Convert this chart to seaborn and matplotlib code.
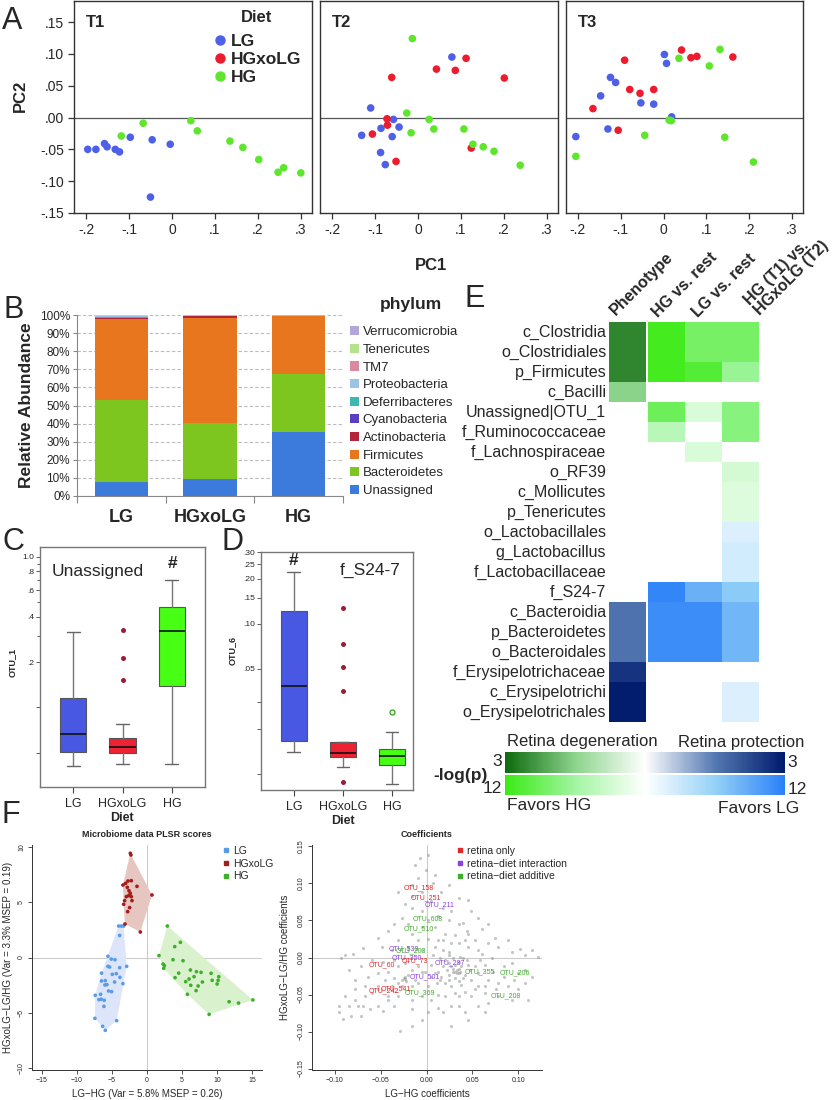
import numpy as np
import pandas as pd
import matplotlib
matplotlib.use("Agg")
import matplotlib.pyplot as plt
import seaborn as sns
from matplotlib.colors import LinearSegmentedColormap, Normalize
from matplotlib.cm import ScalarMappable
from matplotlib.lines import Line2D
from matplotlib.patches import Patch, Polygon
from matplotlib.ticker import FixedLocator, NullFormatter

sns.set_style("ticks")
plt.rcParams["font.family"] = ["Liberation Sans", "DejaVu Sans"]

# ---------------- DATA ----------------
diet_order = ["LG", "HGxoLG", "HG"]

# Panel A: PCA scores per timepoint
pca_t1_x = [-0.196, -0.177, -0.157, -0.151, -0.132, -0.122, -0.097, -0.046, -0.004, -0.050,
            -0.118, -0.067, 0.044, 0.059, 0.135, 0.165, 0.202, 0.247, 0.260, 0.300]
pca_t1_y = [-0.050, -0.050, -0.041, -0.046, -0.050, -0.054, -0.031, -0.035, -0.042, -0.125,
            -0.029, -0.009, -0.005, -0.021, -0.037, -0.047, -0.066, -0.086, -0.079, -0.087]
pca_t1_diet = ["LG"] * 10 + ["HG"] * 10

pca_t2_x = [0.079, -0.110, -0.057, -0.086, -0.044, -0.131, -0.060, -0.087, -0.076,
            0.112, 0.043, 0.087, -0.061, 0.201, -0.072, -0.071, -0.106, 0.124, -0.051,
            -0.013, -0.026, 0.026, 0.037, 0.107, -0.016, 0.128, 0.152, 0.177, 0.238]
pca_t2_y = [0.095, 0.015, -0.003, -0.017, -0.015, -0.028, -0.030, -0.055, -0.074,
            0.093, 0.076, 0.074, 0.063, 0.062, -0.002, -0.012, -0.026, -0.048, -0.069,
            0.124, 0.007, -0.003, -0.018, -0.018, -0.024, -0.042, -0.046, -0.053, -0.075]
pca_t2_diet = ["LG"] * 9 + ["HGxoLG"] * 10 + ["HG"] * 10

pca_t3_x = [0.002, 0.007, -0.124, -0.112, -0.147, -0.053, -0.023, 0.019, -0.130, -0.205,
            0.042, -0.091, 0.064, 0.078, 0.162, -0.079, -0.055, -0.023, -0.165, -0.106,
            0.036, 0.132, 0.107, 0.013, 0.018, -0.044, 0.143, -0.205, 0.210]
pca_t3_y = [0.099, 0.085, 0.063, 0.055, 0.034, 0.023, 0.021, 0.001, -0.018, -0.030,
            0.106, 0.090, 0.094, 0.096, 0.095, 0.044, 0.038, 0.044, 0.014, -0.020,
            0.093, 0.107, 0.081, -0.004, -0.005, -0.028, -0.031, -0.061, -0.070]
pca_t3_diet = ["LG"] * 10 + ["HGxoLG"] * 10 + ["HG"] * 9

pca_xticks = [-0.2, -0.1, 0.0, 0.1, 0.2, 0.3]
pca_xticklabels = ["-.2", "-.1", "0", ".1", ".2", ".3"]
pca_yticks = [-0.15, -0.10, -0.05, 0.0, 0.05, 0.10, 0.15]
pca_yticklabels = ["-.15", "-.10", "-.05", ".00", ".05", ".10", ".15"]

# Panel B: relative abundance (%) per diet (LG, HGxoLG, HG)
ab_groups = ["LG", "HGxoLG", "HG"]
ab_unassigned = [7.9, 9.4, 35.5]
ab_bacteroidetes = [45.1, 31.1, 31.9]
ab_firmicutes = [45.0, 57.8, 32.0]
ab_actinobacteria = [0.6, 0.9, 0.2]
ab_cyanobacteria = [0.0, 0.3, 0.0]
ab_deferribacteres = [0.1, 0.1, 0.05]
ab_proteobacteria = [0.8, 0.2, 0.2]
ab_tm7 = [0.1, 0.0, 0.0]
ab_tenericutes = [0.3, 0.1, 0.1]
ab_verrucomicrobia = [0.1, 0.1, 0.05]
phyla = ["Unassigned", "Bacteroidetes", "Firmicutes", "Actinobacteria", "Cyanobacteria",
         "Deferribacteres", "Proteobacteria", "TM7", "Tenericutes", "Verrucomicrobia"]
phylum_colors = ["#3C7BDC", "#7DC61F", "#E8761F", "#B3263A", "#5A3FC0",
                 "#3DB8B0", "#9CC2E8", "#D98A9E", "#B5E28C", "#B3A6DA"]

# Panel C: OTU_1 box statistics
c_med = [0.0667, 0.0547, 0.321]
c_q1 = [0.0506, 0.0494, 0.138]
c_q3 = [0.115, 0.0622, 0.464]
c_whislo = [0.0407, 0.0418, 0.0419]
c_whishi = [0.317, 0.0774, 0.702]
c_fliers = [[], [0.328, 0.212, 0.153], []]

# Panel D: OTU_6 box statistics
d_med = [0.0385, 0.0138, 0.0132]
d_q1 = [0.0165, 0.0129, 0.0114]
d_q3 = [0.121, 0.0162, 0.01455]
d_whislo = [0.0140, 0.0111, 0.0085]
d_whishi = [0.221, 0.0163, 0.0191]
d_fliers = [[], [0.128, 0.0731, 0.0518, 0.0355, 0.00883], [0.0259]]

# Panel E: signed -log(p) (positive: green side, negative: blue side)
taxa = ["c_Clostridia", "o_Clostridiales", "p_Firmicutes", "c_Bacilli", "Unassigned|OTU_1",
        "f_Ruminococcaceae", "f_Lachnospiraceae", "o_RF39", "c_Mollicutes", "p_Tenericutes",
        "o_Lactobacillales", "g_Lactobacillus", "f_Lactobacillaceae", "f_S24-7", "c_Bacteroidia",
        "p_Bacteroidetes", "o_Bacteroidales", "f_Erysipelotrichaceae", "c_Erysipelotrichi",
        "o_Erysipelotrichales"]
nan = np.nan
e_phenotype = [2.6, 2.6, 2.6, 1.5, nan, nan, nan, nan, nan, nan,
               nan, nan, nan, nan, -1.6, -1.6, -1.6, -2.6, -2.95, -2.95]
e_hg_rest = [11.5, 11.5, 11.5, nan, 9.0, 4.5, nan, nan, nan, nan,
             nan, nan, nan, -11.5, -11.0, -11.0, -11.0, nan, nan, nan]
e_lg_rest = [8.5, 8.5, 10.5, nan, 2.5, nan, 2.5, nan, nan, nan,
             nan, nan, nan, -8.5, -11.0, -11.0, -11.0, nan, nan, nan]
e_t1_t2 = [8.5, 8.5, 6.5, nan, 7.5, 7.5, nan, 2.8, 2.2, 2.2,
           -2.0, -2.6, -2.6, -6.5, -8.0, -8.0, -8.0, nan, -2.0, -2.0]
e_columns = ["Phenotype", "HG vs. rest", "LG vs. rest", "HG (T1) vs.\nHGxoLG (T2)"]

# Panel F left: PLSR scores
pl_lg_x = [-4.05, -3.67, -3.33, -3.90, -5.57, -5.10, -4.57, -2.90, -5.33, -5.57, -3.90, -6.48,
           -4.95, -4.38, -3.86, -5.95, -4.62, -6.48, -3.43, -6.00, -5.71, -5.05, -5.48, -6.62,
           -7.38, -6.86, -6.52, -6.10, -6.14, -7.43, -4.33, -6.33, -5.95]
pl_lg_y = [2.84, 2.84, 2.84, 1.99, 0.11, -0.14, -0.20, -0.80, -0.86, -0.80, -0.92, -1.41,
           -1.52, -1.46, -1.79, -2.09, -2.21, -2.12, -2.36, -2.48, -2.45, -3.08, -3.02, -3.32,
           -3.41, -3.80, -3.77, -3.86, -4.41, -5.49, -5.70, -6.21, -6.57]
pl_hx_x = [-2.38, -2.29, -3.43, -3.05, -2.71, -2.24, -2.81, -2.57, -2.38, -2.24, -2.62,
           -2.95, -3.19, -2.14, -3.33, -2.48, -2.76, -1.43, 0.71, -0.95, -3.14]
pl_hx_y = [9.40, 9.25, 6.54, 6.69, 6.90, 6.93, 6.33, 6.03, 5.79, 5.49, 5.58,
           5.49, 5.13, 5.13, 4.80, 4.50, 4.14, 6.42, 5.64, 2.30, 3.02]
pl_hg_x = [2.90, 4.76, 3.95, 1.71, 3.71, 5.14, 2.29, 2.48, 2.38, 4.52, 6.19, 7.05, 7.71, 9.14,
           4.00, 6.00, 6.71, 5.52, 6.24, 7.29, 9.29, 10.24, 10.14, 10.00, 7.90, 7.00, 5.76,
           11.71, 13.05, 15.10, 8.86]
pl_hg_y = [2.84, 1.37, 0.98, 0.17, -0.20, -0.29, -0.59, -0.74, -0.98, -1.41, -1.13, -1.28,
           -1.34, -1.43, -1.82, -1.94, -1.73, -2.18, -2.51, -2.57, -2.06, -1.73, -2.06, -2.39,
           -2.21, -2.99, -3.32, -3.99, -4.11, -3.83, -5.13]

# Panel F right: PLSR coefficients (grey cloud), as (LG-HG, HGxoLG-LG/HG) pairs
coef_points = [
    (-0.007, 0.134), (0.002, 0.139), (-0.001, 0.118), (-0.009, 0.107), (-0.016, 0.098),
    (0.007, 0.100), (0.016, 0.089), (-0.031, 0.089), (0.018, 0.067), (0.027, 0.063),
    (0.035, 0.080), (0.045, 0.078), (-0.016, 0.067), (-0.027, 0.054), (-0.035, 0.045),
    (-0.020, 0.045), (-0.005, 0.063), (0.024, 0.050), (0.040, 0.047), (0.060, 0.038),
    (0.045, 0.032), (0.031, 0.030), (0.020, 0.032), (0.013, 0.023), (0.002, 0.025),
    (-0.009, 0.023), (-0.053, 0.027), (-0.069, 0.013), (-0.080, 0.005), (-0.089, 0.003),
    (-0.093, -0.001), (0.035, 0.019), (0.045, 0.014), (0.056, 0.010), (0.067, 0.019),
    (0.078, 0.014), (0.093, 0.008), (0.107, 0.003), (0.122, 0.001),
    (0.020, -0.004), (0.024, -0.008), (0.027, -0.012), (0.031, -0.010), (0.035, -0.015),
    (0.029, -0.019), (0.033, -0.021), (0.036, -0.019), (0.025, -0.023), (0.022, -0.017),
    (0.018, -0.012), (0.038, -0.012), (0.042, -0.023), (0.031, -0.028), (0.024, -0.030),
    (0.016, -0.026), (0.013, -0.019), (0.035, -0.006), (0.045, -0.010), (0.040, -0.001),
    (0.015, -0.001), (0.011, -0.034), (0.027, -0.039), (0.038, -0.037), (0.049, -0.030),
    (0.056, -0.039), (0.067, -0.030), (0.078, -0.034), (0.089, -0.039), (0.100, -0.043),
    (0.111, -0.057), (0.093, -0.057), (0.078, -0.052), (0.064, -0.048), (0.049, -0.052),
    (0.035, -0.052), (0.020, -0.052), (0.056, -0.065), (0.042, -0.074), (0.027, -0.065),
    (0.013, -0.068), (0.002, -0.074), (-0.005, -0.085), (-0.016, -0.092), (-0.029, -0.099),
    (-0.027, -0.030), (-0.024, -0.026), (-0.022, -0.032), (-0.031, -0.034), (-0.038, -0.039),
    (-0.045, -0.030), (-0.053, -0.039), (-0.060, -0.048), (-0.067, -0.052), (-0.069, -0.065),
    (-0.078, -0.057), (-0.085, -0.065), (-0.095, -0.074), (-0.091, -0.083), (-0.082, -0.079),
    (-0.071, -0.079), (-0.053, -0.065), (-0.042, -0.057), (-0.031, -0.052), (-0.016, -0.057),
    (-0.005, -0.052), (0.002, -0.039), (-0.009, -0.034), (-0.016, -0.039), (-0.005, -0.019),
    (-0.016, -0.017), (-0.031, -0.012), (-0.042, -0.019), (-0.053, -0.021), (-0.064, -0.026),
    (-0.078, -0.030), (-0.035, -0.004), (0.005, -0.010), (0.007, 0.003), (-0.005, 0.010),
    (-0.020, 0.014), (0.009, 0.014), (0.024, 0.008), (0.093, -0.008), (0.107, -0.017),
    (0.115, -0.026), (0.064, -0.010), (0.073, -0.019), (0.056, -0.021), (0.067, -0.061),
    (0.027, -0.092), (0.045, -0.085), (0.064, -0.074), (0.031, -0.019), (0.033, -0.017),
    (0.029, -0.015), (0.035, -0.021), (-0.025, -0.028), (-0.024, -0.029),
    (0.018, 0.010), (0.025, 0.003), (0.029, -0.001), (0.036, 0.001), (0.044, -0.004),
    (0.047, -0.017), (0.040, -0.028), (0.035, -0.032), (0.020, -0.034), (0.015, -0.030),
    (0.009, -0.021), (0.005, -0.026), (0.053, -0.012), (0.058, -0.004), (0.071, -0.001),
    (0.085, -0.012), (0.100, -0.021), (0.107, -0.034), (0.095, -0.030), (0.084, -0.026),
    (0.076, -0.043), (0.064, -0.039), (0.053, -0.043), (0.042, -0.046), (0.031, -0.048),
    (0.013, -0.050), (0.005, -0.057), (0.035, -0.065), (0.018, -0.074), (-0.016, -0.070),
    (-0.035, -0.065), (-0.047, -0.072), (-0.062, -0.070), (-0.075, -0.065), (-0.089, -0.052),
    (-0.096, -0.065), (-0.027, -0.039), (-0.035, -0.028), (-0.020, -0.023), (-0.013, -0.030),
    (-0.002, -0.019), (-0.009, -0.012), (-0.024, -0.008), (-0.047, -0.006), (-0.060, -0.004),
    (-0.071, -0.012), (-0.085, -0.017), (-0.038, 0.010), (-0.049, 0.014), (-0.031, 0.023),
    (-0.042, 0.036), (-0.016, 0.032), (-0.005, 0.041), (0.002, 0.050), (0.009, 0.041),
    (0.013, 0.056), (0.005, 0.076), (-0.016, 0.083), (-0.024, 0.072), (-0.005, 0.089),
    (0.024, 0.098), (0.009, 0.111), (-0.013, 0.125), (0.056, 0.054), (0.049, 0.063),
    (0.067, 0.045), (0.075, 0.027), (0.089, 0.023), (0.102, 0.012), (0.115, 0.010),
    (0.053, 0.023), (0.060, 0.005), (0.042, 0.023), (0.027, 0.019), (0.018, 0.023),
    (0.035, 0.045), (0.044, 0.036), (-0.053, -0.043), (-0.042, -0.052), (-0.067, -0.039),
    (-0.078, -0.043),
]
otu_names = ["OTU_158", "OTU_251", "OTU_211", "OTU_608", "OTU_510", "OTU_539", "OTU_203",
             "OTU_350", "OTU_73", "OTU_60", "OTU_287", "OTU_501", "OTU_369", "OTU_541",
             "OTU_242", "OTU_355", "OTU_206", "OTU_208"]
otu_x = [-0.0087, -0.0007, 0.0138, 0.0018, -0.0087, -0.0251, -0.0175, -0.0218, -0.0127, -0.0490,
         0.0258, -0.0018, -0.0073, -0.0331, -0.0469, 0.0585, 0.0967, 0.0862]
otu_y = [0.0946, 0.0805, 0.0716, 0.0517, 0.0385, 0.0115, 0.0088, 0.0000, -0.0049, -0.0102,
         -0.0066, -0.0261, -0.0477, -0.0420, -0.0455, -0.0186, -0.0212, -0.0522]
otu_class = ["retina only", "retina only", "interaction", "additive", "additive", "interaction",
             "additive", "interaction", "retina only", "retina only", "interaction",
             "interaction", "additive", "retina only", "retina only", "additive", "additive",
             "additive"]

# ---------------- FIGURE ----------------
W, H = 835, 1100
fig = plt.figure(figsize=(W / 100, H / 100), dpi=100)


def add_ax(x0, y0, x1, y1):
    return fig.add_axes([x0 / W, 1 - y1 / H, (x1 - x0) / W, (y1 - y0) / H])


def ftext(x, y, s, **kw):
    return fig.text(x / W, 1 - y / H, s, **kw)


def fpt(x, y):
    return (x / W, 1 - y / H)


# panel letters
for letter, (lx, ly) in {"A": (2, 29), "B": (3, 318), "C": (2, 550), "D": (222, 550),
                         "E": (465, 307), "F": (2, 823)}.items():
    ftext(lx, ly, letter, fontsize=22, va="baseline", ha="left")

# ---------------- Panel A ----------------
diet_colors = {"LG": "#4E60E8", "HGxoLG": "#EC1C2E", "HG": "#5EE62C"}
pca_sets = [("T1", pca_t1_x, pca_t1_y, pca_t1_diet, (74, 1, 312, 213)),
            ("T2", pca_t2_x, pca_t2_y, pca_t2_diet, (320, 1, 558, 213)),
            ("T3", pca_t3_x, pca_t3_y, pca_t3_diet, (566, 1, 803, 213))]
for k, (name, xs, ys, ds, box) in enumerate(pca_sets):
    ax = add_ax(*box)
    df = pd.DataFrame({"PC1": xs, "PC2": ys, "Diet": ds})
    ax.axhline(0, color="#555555", lw=0.9, zorder=1)
    sns.scatterplot(data=df, x="PC1", y="PC2", hue="Diet", hue_order=diet_order,
                    palette=diet_colors, s=30, linewidth=0, legend=False, ax=ax, zorder=3)
    ax.set_xlim(-0.228, 0.326)
    ax.set_ylim(-0.15, 0.183)
    ax.set_xticks(pca_xticks, pca_xticklabels, fontsize=10)
    if k == 0:
        ax.set_yticks(pca_yticks, pca_yticklabels, fontsize=10)
    else:
        ax.set_yticks([])
    ax.set_xlabel("")
    ax.set_ylabel("")
    ax.tick_params(direction="out", length=4, width=0.9, color="#333333", pad=3)
    for sp in ax.spines.values():
        sp.set_visible(True)
        sp.set_color("#333333")
        sp.set_linewidth(1.0)
    ax.text(12 / (box[2] - box[0]), 1 - 26 / (box[3] - box[1]), name,
            transform=ax.transAxes, fontsize=12, fontweight="bold", va="baseline")
    if k == 0:
        handles = [Line2D([], [], marker="o", ls="", color=diet_colors[d], markersize=6.5)
                   for d in diet_order]
        ax.legend(handles, diet_order, loc="upper left", bbox_to_anchor=fpt(215, 34),
                  bbox_transform=fig.transFigure, frameon=False,
                  prop={"weight": "bold", "size": 12.5},
                  handletextpad=0.32, labelspacing=0.17, borderpad=0, borderaxespad=0,
                  handlelength=0.6)
ftext(257, 22, "Diet", fontsize=12, fontweight="bold", ha="center", va="baseline")
ftext(20, 96, "PC2", fontsize=12, fontweight="bold", rotation=90, ha="center", va="center")
ftext(431, 270, "PC1", fontsize=12, fontweight="bold", ha="center", va="baseline")

# ---------------- Panel B ----------------
axB = add_ax(77, 315, 343, 496)
ab_values = [ab_unassigned, ab_bacteroidetes, ab_firmicutes, ab_actinobacteria, ab_cyanobacteria,
             ab_deferribacteres, ab_proteobacteria, ab_tm7, ab_tenericutes, ab_verrucomicrobia]
bottom = np.zeros(len(ab_groups))
for name, vals, col in zip(phyla, ab_values, phylum_colors):
    vals = np.asarray(vals, dtype=float)
    axB.bar(np.arange(len(ab_groups)), vals, 0.6, bottom=bottom, color=col, label=name,
            linewidth=0, zorder=3)
    bottom += vals
axB.set_xlim(-0.5, 2.5)
axB.set_ylim(0, 100)
axB.set_yticks(np.arange(0, 101, 10), [f"{v}%" for v in range(0, 101, 10)], fontsize=8.5)
axB.set_xticks(range(3), ab_groups, fontsize=13, fontweight="bold")
axB.xaxis.set_minor_locator(FixedLocator([-0.5, 0.5, 1.5, 2.5]))
axB.tick_params(axis="x", which="major", length=0, pad=9)
axB.tick_params(axis="x", which="minor", length=5, color="#888888", width=0.8)
axB.tick_params(axis="y", length=3, color="#888888", width=0.8, pad=2)
axB.yaxis.grid(True, ls=(0, (3, 2)), color="#BBBBBB", lw=0.8, zorder=0)
axB.set_axisbelow(True)
for s in ["top", "right"]:
    axB.spines[s].set_visible(False)
for s in ["left", "bottom"]:
    axB.spines[s].set_color("#888888")
    axB.spines[s].set_linewidth(0.8)
ftext(27, 405, "Relative Abundance", fontsize=12.5, fontweight="bold", rotation=90,
      ha="center", va="center")
hB = [Patch(facecolor=c, edgecolor="none") for c in phylum_colors][::-1]
axB.legend(hB, phyla[::-1], loc="upper left", bbox_to_anchor=fpt(350, 326),
           bbox_transform=fig.transFigure, frameon=False, fontsize=9.5, handlelength=0.7,
           handleheight=0.7, handletextpad=0.25, labelspacing=0.41, borderpad=0,
           borderaxespad=0)
ftext(411, 309, "phylum", fontsize=12.5, fontweight="bold", ha="center", va="baseline")

# ---------------- Panels C & D ----------------
box_colors = ["#4858E2", "#EE2233", "#46FF12"]


def draw_box(ax, med, q1, q3, wlo, whi, fl):
    stats = [dict(med=med[i], q1=q1[i], q3=q3[i], whislo=wlo[i], whishi=whi[i], fliers=fl[i])
             for i in range(3)]
    bp = ax.bxp(stats, positions=[0, 1, 2], widths=0.53, patch_artist=True, showfliers=True,
                capwidths=0.26,
                boxprops=dict(edgecolor="#555555", linewidth=0.8),
                medianprops=dict(color="#111111", linewidth=1.2),
                whiskerprops=dict(color="#777777", linewidth=1.0),
                capprops=dict(color="#666666", linewidth=1.0),
                flierprops=dict(marker="o", markersize=3.6, markerfacecolor="#9B1B3A",
                                markeredgecolor="none"))
    for patch, col in zip(bp["boxes"], box_colors):
        patch.set_facecolor(col)
    return bp


axC = add_ax(40, 547, 205, 787)
axC.set_yscale("log")
draw_box(axC, c_med, c_q1, c_q3, c_whislo, c_whishi, c_fliers)
axC.set_xlim(-0.67, 2.67)
axC.set_ylim(0.0295, 1.164)
axC.yaxis.set_major_locator(FixedLocator([0.05, 0.1, 0.2, 0.4, 0.6, 0.8, 1.0]))
axC.set_yticklabels(["", "", ".2", ".4", ".6", ".8", "1.0"])
axC.yaxis.set_minor_locator(FixedLocator([0.3, 0.5, 0.7, 0.9]))
axC.yaxis.set_minor_formatter(NullFormatter())

axD = add_ax(261, 552, 413, 790)
axD.set_yscale("log")
bpD = draw_box(axD, d_med, d_q1, d_q3, d_whislo, d_whishi, d_fliers)
bpD["fliers"][2].set(markerfacecolor="#D9F7C8", markeredgecolor="#3E9E2E", markersize=3.6,
                     markeredgewidth=0.9)
axD.set_xlim(-0.67, 2.43)
axD.set_ylim(0.00777, 0.302)
axD.yaxis.set_major_locator(FixedLocator([0.01, 0.02, 0.03, 0.05, 0.10, 0.15, 0.20, 0.25, 0.30]))
axD.set_yticklabels(["", "", "", ".05", ".10", ".15", ".20", ".25", ".30"])
axD.yaxis.set_minor_locator(FixedLocator([]))
axD.yaxis.set_minor_formatter(NullFormatter())

for ax in (axC, axD):
    ax.set_xticks([0, 1, 2], diet_order, fontsize=9)
    ax.tick_params(axis="x", length=4, color="#444444", width=0.8, pad=4)
    ax.tick_params(axis="y", which="both", labelsize=6, length=3, color="#444444", width=0.6, pad=1)
    ax.tick_params(axis="y", which="minor", length=2)
    for sp in ax.spines.values():
        sp.set_visible(True)
        sp.set_color("#777777")
        sp.set_linewidth(1.0)

ftext(52, 576, "Unassigned", fontsize=12.5, va="baseline")
ftext(173, 568, "#", fontsize=12.5, fontweight="bold", ha="center", va="baseline")
ftext(12, 662, "OTU_1", fontsize=6.5, fontweight="bold", rotation=90, ha="center", va="center")
ftext(122, 821, "Diet", fontsize=9, fontweight="bold", ha="center", va="baseline")
ftext(340, 575, "f_S24-7", fontsize=12.5, va="baseline")
ftext(294, 565, "#", fontsize=12.5, fontweight="bold", ha="center", va="baseline")
ftext(232, 650, "OTU_6", fontsize=6.5, fontweight="bold", rotation=90, ha="center", va="center")
ftext(343, 824, "Diet", fontsize=9, fontweight="bold", ha="center", va="baseline")

# ---------------- Panel E ----------------
pheno_cmap = LinearSegmentedColormap.from_list(
    "pheno", [(0.0, "#001A6C"), (0.25, "#5479B2"), (0.5, "#FFFFFF"), (0.75, "#8CD48C"),
              (1.0, "#0D6A0D")])
diet_cmap = LinearSegmentedColormap.from_list(
    "dietc", [(0.0, "#2B80F8"), (0.25, "#95D2F7"), (0.5, "#FFFFFF"), (0.75, "#A2F5A2"),
              (1.0, "#3BEA14")])
ax_ph = add_ax(609, 322, 646, 722)
df_ph = pd.DataFrame({"Phenotype": e_phenotype}, index=taxa)
sns.heatmap(df_ph, ax=ax_ph, cmap=pheno_cmap, vmin=-3, vmax=3, cbar=False,
            xticklabels=False, yticklabels=True)
ax_ph.set_yticks(np.arange(len(taxa)) + 0.5)
ax_ph.set_yticklabels(taxa, rotation=0, fontsize=11.5)
ax_ph.tick_params(axis="y", length=0, pad=2)
ax_ph.set_ylabel("")
ax_dt = add_ax(648, 322, 759, 722)
df_dt = pd.DataFrame({"HG vs. rest": e_hg_rest, "LG vs. rest": e_lg_rest,
                      "HG (T1) vs. HGxoLG (T2)": e_t1_t2}, index=taxa)
sns.heatmap(df_dt, ax=ax_dt, cmap=diet_cmap, vmin=-12, vmax=12, cbar=False,
            xticklabels=False, yticklabels=False)
ax_dt.set_ylabel("")
col_anchor = [(618, 318), (660, 320), (700, 320), (762, 318)]
for lab, (cx, cy) in zip(e_columns, col_anchor):
    ftext(cx, cy, lab, fontsize=11.5, fontweight="bold", rotation=45, rotation_mode="anchor",
          ha="left", va="bottom", linespacing=0.95)

cax1 = add_ax(505, 752, 785, 773)
cax2 = add_ax(505, 775, 785, 795)
for cax, cm, lim in ((cax1, pheno_cmap, 3), (cax2, diet_cmap, 12)):
    cb = fig.colorbar(ScalarMappable(norm=Normalize(-lim, lim), cmap=cm), cax=cax,
                      orientation="horizontal")
    cax.invert_xaxis()
    cb.outline.set_visible(False)
    cax.set_xticks([])
    cax.tick_params(length=0)
ftext(507, 746, "Retina degeneration", fontsize=12, va="baseline")
ftext(678, 747, "Retina protection", fontsize=12, va="baseline")
ftext(433, 780, "-log(p)", fontsize=12.5, fontweight="bold", va="baseline")
ftext(502, 766, "3", fontsize=12.5, ha="right", va="baseline")
ftext(502, 793, "12", fontsize=12.5, ha="right", va="baseline")
ftext(787, 767, "3", fontsize=12.5, ha="left", va="baseline")
ftext(788, 794, "12", fontsize=12.5, ha="left", va="baseline")
ftext(507, 810, "Favors HG", fontsize=12.5, va="baseline")
ftext(718, 813, "Favors LG", fontsize=12.5, va="baseline")

# ---------------- Panel F left ----------------


def convex_hull(xs, ys):
    pts = sorted(set(zip(xs, ys)))

    def cross(o, a, b):
        return (a[0] - o[0]) * (b[1] - o[1]) - (a[1] - o[1]) * (b[0] - o[0])
    lower, upper = [], []
    for p in pts:
        while len(lower) >= 2 and cross(lower[-2], lower[-1], p) <= 0:
            lower.pop()
        lower.append(p)
    for p in reversed(pts):
        while len(upper) >= 2 and cross(upper[-2], upper[-1], p) <= 0:
            upper.pop()
        upper.append(p)
    return lower[:-1] + upper[:-1]


pl_colors = {"LG": "#5A9BE6", "HGxoLG": "#A41B1B", "HG": "#3DB02A"}
pl_fill = {"LG": "#DDE5FA", "HGxoLG": "#E6C6C0", "HG": "#DAF1CD"}
axF1 = add_ax(32, 845, 262, 1070)
axF1.axvline(0, color="#CCCCCC", lw=0.8, zorder=0)
axF1.axhline(0, color="#CCCCCC", lw=0.8, zorder=0)
pl_sets = {"LG": (pl_lg_x, pl_lg_y), "HGxoLG": (pl_hx_x, pl_hx_y), "HG": (pl_hg_x, pl_hg_y)}
for g in diet_order:
    xs, ys = pl_sets[g]
    axF1.add_patch(Polygon(convex_hull(xs, ys), closed=True, facecolor=pl_fill[g],
                           edgecolor="none", zorder=1))
pl_df = pd.DataFrame({"x": pl_lg_x + pl_hx_x + pl_hg_x, "y": pl_lg_y + pl_hx_y + pl_hg_y,
                      "Diet": ["LG"] * len(pl_lg_x) + ["HGxoLG"] * len(pl_hx_x) + ["HG"] * len(pl_hg_x)})
sns.scatterplot(data=pl_df, x="x", y="y", hue="Diet", hue_order=diet_order, palette=pl_colors,
                s=7, linewidth=0, legend=False, ax=axF1, zorder=3)
axF1.set_xlim(-16.4, 16.4)
axF1.set_ylim(-10.15, 10.15)
axF1.set_xticks([-15, -10, -5, 0, 5, 10, 15])
axF1.set_yticks([-10, -5, 0, 5, 10])
axF1.set_xlabel("")
axF1.set_ylabel("")
fl_handles = [Line2D([], [], marker="s", ls="", color=pl_colors[d], markersize=2.5) for d in diet_order]
axF1.legend(fl_handles, diet_order, loc="upper left", bbox_to_anchor=fpt(223, 846),
            bbox_transform=fig.transFigure, frameon=False, fontsize=7.5, handlelength=0.6,
            handletextpad=0.4, labelspacing=0.25, borderpad=0, borderaxespad=0)
ftext(147, 837, "Microbiome data PLSR scores", fontsize=6.5, fontweight="bold", ha="center",
      va="baseline")
ftext(147, 1097, "LG\u2212HG (Var = 5.8% MSEP = 0.26)", fontsize=7, ha="center", va="baseline")
ftext(8, 957, "HGxoLG\u2212LG/HG (Var = 3.3% MSEP = 0.19)", fontsize=7, ha="center",
      va="center", rotation=90)

# ---------------- Panel F right ----------------
coef_x = [p[0] for p in coef_points]
coef_y = [p[1] for p in coef_points]
axF2 = add_ax(312, 845, 542, 1070)
axF2.axvline(0, color="#CCCCCC", lw=0.8, zorder=0)
axF2.axhline(0, color="#CCCCCC", lw=0.8, zorder=0)
sns.scatterplot(x=coef_x, y=coef_y, color="#87918A", alpha=0.5, s=5, linewidth=0, ax=axF2,
                zorder=2)
cls_colors = {"retina only": "#E02828", "interaction": "#8A3FE0", "additive": "#3FAE2A"}
cls_labels = {"retina only": "retina only", "interaction": "retina\u2212diet interaction",
              "additive": "retina\u2212diet additive"}
for nm, x, y, c in zip(otu_names, otu_x, otu_y, otu_class):
    axF2.text(x, y, nm, fontsize=5.0, color=cls_colors[c], ha="center", va="center", zorder=4)
axF2.set_xlim(-0.125, 0.126)
axF2.set_ylim(-0.152, 0.152)
axF2.set_xticks([-0.10, -0.05, 0.0, 0.05, 0.10], ["\u22120.10", "\u22120.05", "0.00", "0.05", "0.10"])
axF2.set_yticks([-0.15, -0.10, -0.05, 0.0, 0.05, 0.10, 0.15],
                ["\u22120.15", "\u22120.10", "\u22120.05", "0.00", "0.05", "0.10", "0.15"])
cl_handles = [Line2D([], [], marker="s", ls="", color=c, markersize=2.5) for c in cls_colors.values()]
axF2.legend(cl_handles, list(cls_labels.values()), loc="upper left", bbox_to_anchor=fpt(457, 846),
            bbox_transform=fig.transFigure, frameon=False, fontsize=7.5, handlelength=0.6,
            handletextpad=0.4, labelspacing=0.25, borderpad=0, borderaxespad=0)
ftext(427, 837, "Coefficients", fontsize=6.5, fontweight="bold", ha="center", va="baseline")
ftext(427, 1097, "LG\u2212HG coefficients", fontsize=7, ha="center", va="baseline")
ftext(285, 957, "HGxoLG\u2212LG/HG coefficients", fontsize=7, ha="center", va="center",
      rotation=90)

for ax in (axF1, axF2):
    for s in ["top", "right"]:
        ax.spines[s].set_visible(False)
    for s in ["left", "bottom"]:
        ax.spines[s].set_color("#333333")
        ax.spines[s].set_linewidth(0.7)
    ax.tick_params(labelsize=5, length=3, width=0.6, color="#333333", pad=2)
    for lbl in ax.get_yticklabels():
        lbl.set_rotation(90)
        lbl.set_va("center")

fig.savefig("out.png", dpi=100)
